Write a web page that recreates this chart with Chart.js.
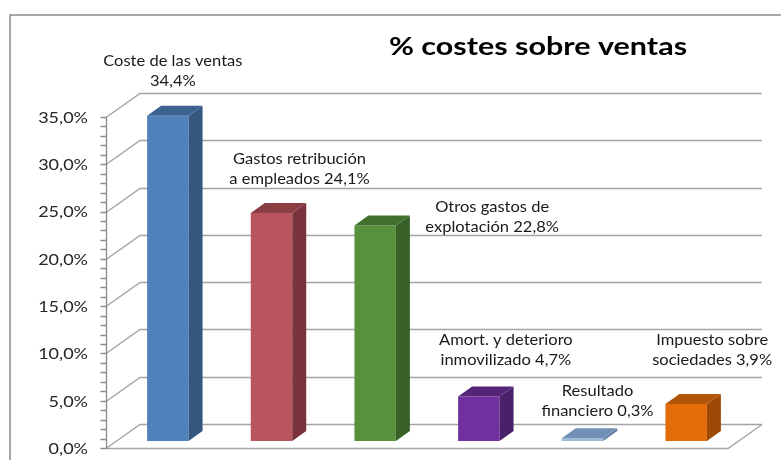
<!DOCTYPE html>
<html>
<head>
<meta charset="utf-8">
<script src="https://cdn.jsdelivr.net/npm/chart.js@4.4.1/dist/chart.umd.min.js"></script>
<style>
  html, body { margin: 0; padding: 0; background: #fff; }
  #wrap { width: 781px; height: 460px; }
</style>
</head>
<body>
<div id="wrap"><canvas id="costChart"></canvas></div>
<script>
// data
const labelFirst = ['Coste de las ventas', 'Gastos retribución', 'Otros gastos de', 'Amort. y deterioro', 'Resultado', 'Impuesto sobre'];
const labelSecond = ['', 'a empleados', 'explotación', 'inmovilizado', 'financiero', 'sociedades'];
const categories = labelFirst.map((t, i) => (t + ' ' + labelSecond[i]).trim());
const values = [34.4, 24.1, 22.8, 4.7, 0.3, 3.9];
const yTicks = [0, 5, 10, 15, 20, 25, 30, 35];

const frontColors = ['#4f81bd', '#b9555c', '#58913c', '#7030a0', '#9fbad9', '#e46c0a'];
const topColors = ['#3c6291', '#8b3f45', '#41702c', '#55257a', '#7190b5', '#b35508'];
const sideColors = ['#35577f', '#78343a', '#376127', '#4a206b', '#5f7ea3', '#9e4a06'];

// manual label placement (relative to the top of each bar)
const labelDX = [5, 28, 117, 27, 15, 26];
const labelDY = [-35, -34, 2, -36, -27, -44];

const FONT = 'Lato, "Open Sans", sans-serif';
const DEPTH_X = 34, DEPTH_Y = -24;   // floor / back wall depth
const BAR_SHIFT_X = 10, BAR_SHIFT_Y = -7;
const BAR_DX = 14, BAR_DY = -10;

function fmt(v) {
    return v.toFixed(1).replace('.', ',') + '%';
}

function poly(ctx, pts, fill) {
    ctx.beginPath();
    ctx.moveTo(pts[0][0], pts[0][1]);
    for (let i = 1; i < pts.length; i++) ctx.lineTo(pts[i][0], pts[i][1]);
    ctx.closePath();
    ctx.fillStyle = fill;
    ctx.fill();
}

// text in the reference is a bit stretched sideways
function wideText(ctx, text, x, y, sx) {
    ctx.save();
    ctx.translate(x, y);
    ctx.scale(sx, 1);
    ctx.fillText(text, 0, 0);
    ctx.restore();
}

const frame3d = {
    id: 'frame3d',
    beforeDraw(chart) {
        const ctx = chart.ctx;
        const y = chart.scales.y;
        const area = chart.chartArea;
        ctx.save();
        // outer border
        ctx.strokeStyle = '#8c8c8c';
        ctx.lineWidth = 1.5;
        ctx.strokeRect(10, 15, 1000, 1000);

        // back wall grid + diagonals
        ctx.strokeStyle = '#a3a3a3';
        ctx.lineWidth = 1.4;
        yTicks.forEach(v => {
            const py = Math.round(y.getPixelForValue(v)) + 0.5;
            ctx.beginPath();
            ctx.moveTo(area.left, py);
            ctx.lineTo(area.left + DEPTH_X, py + DEPTH_Y);
            ctx.lineTo(area.right + DEPTH_X, py + DEPTH_Y);
            ctx.stroke();
        });
        // floor front edge
        const y0 = Math.round(y.getPixelForValue(0)) + 0.5;
        ctx.beginPath();
        ctx.moveTo(area.left, y0);
        ctx.lineTo(area.right, y0);
        ctx.lineTo(area.right + DEPTH_X, y0 + DEPTH_Y);
        ctx.stroke();

        // front axis line + ticks (every 1%)
        ctx.strokeStyle = '#8a8a8a';
        ctx.lineWidth = 1.3;
        const x0 = Math.round(area.left) + 0.5;
        ctx.beginPath();
        ctx.moveTo(x0, y.getPixelForValue(y.max));
        ctx.lineTo(x0, y0);
        for (let v = 0; v <= y.max; v++) {
            const py = Math.round(y.getPixelForValue(v)) + 0.5;
            ctx.moveTo(x0 - 6, py);
            ctx.lineTo(x0, py);
        }
        ctx.stroke();

        // tick labels
        ctx.fillStyle = '#262626';
        ctx.font = '15px ' + FONT;
        ctx.textAlign = 'right';
        ctx.textBaseline = 'middle';
        y.ticks.forEach(t => {
            wideText(ctx, fmt(t.value), area.left - 18, y.getPixelForValue(t.value) + 1, 1.2);
        });

        // title
        ctx.fillStyle = '#000';
        ctx.font = 'bold 25px ' + FONT;
        ctx.textAlign = 'center';
        wideText(ctx, '% costes sobre ventas', 538, 47, 1.22);
        ctx.restore();
    },
    beforeDatasetsDraw(chart) {
        chart.ctx.save();
        chart.ctx.translate(BAR_SHIFT_X, BAR_SHIFT_Y);
    },
    afterDatasetsDraw(chart) {
        const ctx = chart.ctx;
        const meta = chart.getDatasetMeta(0);
        meta.data.forEach((bar, i) => {
            const half = bar.width / 2;
            const l = bar.x - half, r = bar.x + half;
            const t = bar.y, b = bar.base;
            poly(ctx, [[r, t], [r + BAR_DX, t + BAR_DY], [r + BAR_DX, b + BAR_DY], [r, b]], sideColors[i]);
            poly(ctx, [[l, t], [l + BAR_DX, t + BAR_DY], [r + BAR_DX, t + BAR_DY], [r, t]], topColors[i]);
        });
        ctx.restore();

        // data labels
        ctx.save();
        ctx.fillStyle = '#1a1a1a';
        ctx.font = '15px ' + FONT;
        ctx.textAlign = 'center';
        ctx.textBaseline = 'middle';
        meta.data.forEach((bar, i) => {
            const cx = bar.x + BAR_SHIFT_X + labelDX[i];
            const ly = bar.y + BAR_SHIFT_Y + labelDY[i];
            const second = (labelSecond[i] ? labelSecond[i] + ' ' : '') + fmt(values[i]);
            wideText(ctx, labelFirst[i], cx, ly - 20, 1.1);
            wideText(ctx, second, cx, ly, 1.1);
        });
        ctx.restore();
    }
};

const ctx = document.getElementById('costChart').getContext('2d');
const costChart = new Chart(ctx, {
    type: 'bar',
    data: {
        labels: categories,
        datasets: [{
            label: '% costes sobre ventas',
            data: values,
            backgroundColor: frontColors,
            borderWidth: 0,
            barPercentage: 0.4,
            categoryPercentage: 1
        }]
    },
    options: {
        responsive: true,
        maintainAspectRatio: false,
        animation: false,
        layout: {
            padding: { left: 0, right: 53, top: 117, bottom: 12 }
        },
        scales: {
            x: { display: false },
            y: {
                min: 0,
                max: 35,
                afterFit: (scale) => { scale.width = 106; },
                grid: { display: false },
                border: { display: false },
                ticks: { stepSize: 5, display: false }
            }
        },
        plugins: {
            legend: { display: false },
            tooltip: { enabled: false }
        }
    },
    plugins: [frame3d]
});
</script>
</body>
</html>
